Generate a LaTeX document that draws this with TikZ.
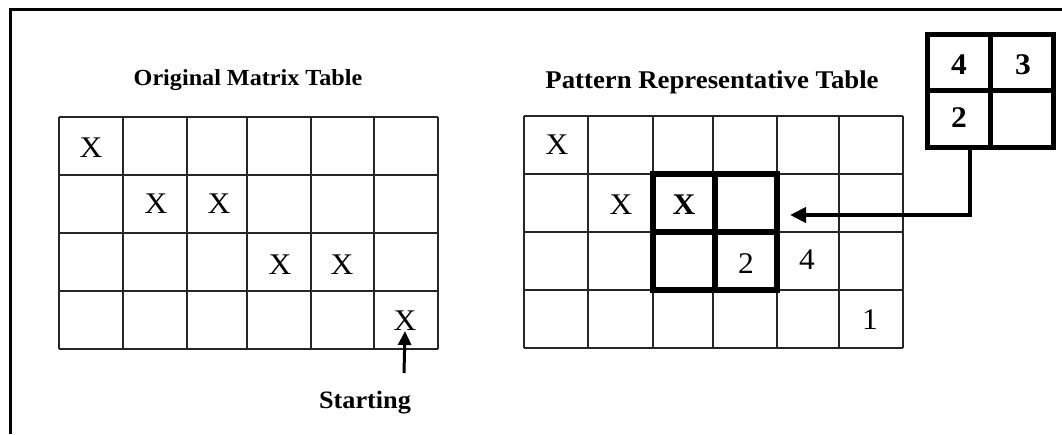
\documentclass[tikz,border=0pt]{standalone}
\usepackage{fontspec}
\setmainfont{Liberation Serif}[FakeStretch=1.05]
\usetikzlibrary{arrows.meta}

\begin{document}
\begin{tikzpicture}[x=1pt,y=-1pt,
  gridline/.style={line width=1.4pt, draw=black!85},
  heavybox/.style={draw, line width=6pt, inner sep=0pt, line cap=rect},
  keybox/.style={draw, line width=5pt, inner sep=0pt, line cap=rect},
  cellx/.style={inner sep=0pt, font=\fontsize{30}{32}\selectfont},
  keydigit/.style={inner sep=0pt, font=\fontsize{30}{32}\selectfont\bfseries},
  caption/.style={inner sep=0pt, anchor=base},
  link/.style={line width=4pt, -{Triangle[length=16pt,width=15pt]}},
  pointer/.style={line width=3pt, -{Triangle[length=14pt,width=13pt]}}]
\useasboundingbox (0,0) rectangle (1062,434);

% outer frame (left and top edges)
\draw[line width=3pt] (10,434) -- (10,9) -- (1062,9);

% ---- original matrix table ----
\node[caption, font=\fontsize{23}{25}\selectfont\bfseries] (origtitle) at (248,85) {Original Matrix Table};
\foreach \x in {59,123,187,247,311,374,438}
  \draw[gridline] (\x,117) -- (\x,349);
\foreach \y in {117,175,233,291,349}
  \draw[gridline] (59,\y) -- (438,\y);
\node[cellx] (o11) at (91,148) {X};
\node[cellx] (o22) at (156,204) {X};
\node[cellx] (o23) at (219,204) {X};
\node[cellx] (o34) at (280,265) {X};
\node[cellx] (o35) at (342,265) {X};
\node[cellx] (o46) at (405,321) {X};
\node[caption, font=\fontsize{25}{27}\selectfont\bfseries] (start) at (365,408) {Starting};
\coordinate (startfoot) at (404,373);
\draw[pointer] (startfoot) -- (o46.south);

% ---- pattern representative table ----
\node[caption, font=\fontsize{25.5}{27}\selectfont\bfseries] (pattitle) at (712,88) {Pattern Representative Table};
\foreach \x in {524,588,653,713,777,839,903}
  \draw[gridline] (\x,116) -- (\x,348);
\foreach \y in {116,174,232,290,348}
  \draw[gridline] (524,\y) -- (903,\y);
\node[cellx] (p11) at (557,145) {X};
\node[cellx] (p22) at (621,205) {X};
\node[cellx, font=\fontsize{30}{32}\selectfont\bfseries] (p23) at (684,205) {X};
\node[cellx] (p34) at (746,264) {2};
\node[cellx] (p35) at (807,260) {4};
\node[cellx] (p46) at (870,320) {1};

% 2x2 window inside the table
\node[heavybox, minimum width=124pt, minimum height=116pt] (win) at (715,232) {};
\draw[line width=6pt] (win.north) -- (win.south);
\draw[line width=6pt] (win.west) -- (win.east);

% ---- 2x2 key block ----
\node[keybox, minimum width=126pt, minimum height=113pt] (key) at (990,90.5) {};
\draw[line width=5pt] (key.north) -- (key.south);
\draw[line width=5pt] (key.west) -- (key.east);
\node[keydigit] (k4) at (959,65) {4};
\node[keydigit] (k3) at (1023,65) {3};
\node[keydigit] (k2) at (959,118) {2};

% connector from the key block to the window
\coordinate (keyfoot) at ([xshift=-20pt]key.south);
\coordinate (wintip) at ([xshift=10pt,yshift=17pt]win.east);
\draw[link] (keyfoot) |- (wintip);
\end{tikzpicture}
\end{document}
